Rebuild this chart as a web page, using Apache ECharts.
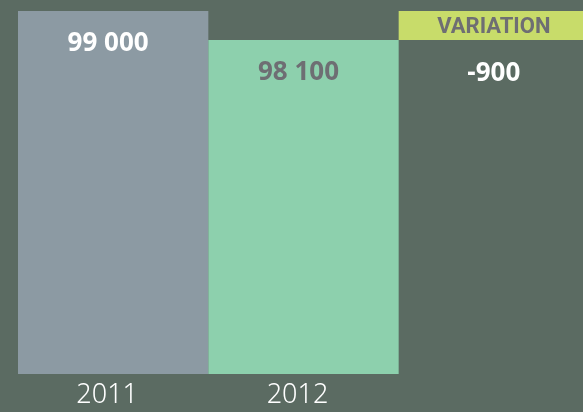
<!DOCTYPE html>
<html>
<head>
<meta charset="utf-8">
<script src="https://cdn.jsdelivr.net/npm/echarts@6/dist/echarts.min.js"></script>
<style>
  html, body { margin: 0; padding: 0; background: #5b6b62; }
  #chart { width: 583px; height: 412px; }
</style>
</head>
<body>
<div id="chart"></div>
<script>
// données
const categories = ['2011', '2012', '']
const values = [99000, 98100]
const variation = values[1] - values[0]
const variationLabel = 'VARIATION'

function fmt(v) {
  return String(v).replace(/\B(?=(\d{3})+(?!\d))/g, ' ')
}

const myChart = echarts.init(document.getElementById('chart'))
const option = {
  backgroundColor: '#5b6b62',
  animation: false,
  grid: {
    top: 11,
    left: 18,
    width: 571,
    bottom: 38,
    outerBoundsMode: 'none'
  },
  xAxis: {
    type: 'category',
    data: categories,
    axisLine: { show: false },
    axisTick: { show: false },
    axisLabel: {
      color: '#ffffff',
      fontSize: 27,
      fontFamily: 'Noto Sans',
      fontWeight: 300,
      padding: [0, 12, 0, 0],
      margin: 8
    }
  },
  yAxis: {
    type: 'value',
    min: 87750,
    max: 99000,
    show: false,
    splitLine: { show: false }
  },
  series: [
    {
      // barres principales
      type: 'bar',
      stack: 'v',
      barWidth: '100%',
      data: [
        { value: values[0], itemStyle: { color: '#8c9aa3' }, label: { color: '#ffffff' } },
        { value: values[1], itemStyle: { color: '#8dd0ad' }, label: { color: '#6e6e73' } },
        { value: Math.min(values[0], values[1]), itemStyle: { color: 'transparent' }, label: { show: false } }
      ],
      label: {
        show: true,
        position: 'insideTop',
        distance: 20,
        offset: [-5, 0],
        fontSize: 26,
        fontWeight: 'bold',
        fontFamily: 'Noto Sans',
        formatter: (p) => fmt(p.value)
      }
    },
    {
      // boîte variation
      type: 'bar',
      stack: 'v',
      barWidth: '100%',
      data: ['-', '-', Math.abs(variation)],
      itemStyle: { color: '#c8dc6a' },
      label: {
        show: true,
        position: 'inside',
        offset: [0, 2],
        color: '#6e6e73',
        fontSize: 22,
        fontWeight: 'bold',
        fontFamily: 'Roboto',
        formatter: variationLabel
      },
      markPoint: {
        symbol: 'rect',
        symbolSize: 1,
        itemStyle: { color: 'transparent' },
        label: {
          show: true,
          position: 'bottom',
          distance: 20,
          color: '#ffffff',
          fontSize: 26,
          fontWeight: 'bold',
          fontFamily: 'Noto Sans',
          formatter: String(variation)
        },
        data: [{ coord: [2, Math.min(values[0], values[1])] }]
      }
    }
  ]
}
myChart.setOption(option)
</script>
</body>
</html>
